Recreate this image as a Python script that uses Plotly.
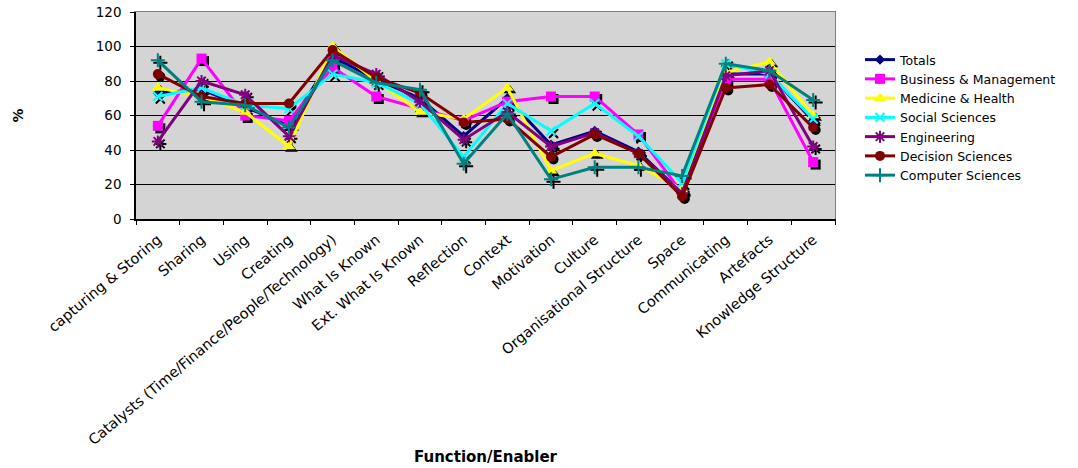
import plotly.graph_objects as go

# Function / enabler categories along the x axis
categories = [
    "capturing & Storing", "Sharing", "Using", "Creating",
    "Catalysts (Time/Finance/People/Technology)", "What Is Known",
    "Ext. What Is Known", "Reflection", "Context", "Motivation", "Culture",
    "Organisational Structure", "Space", "Communicating", "Artefacts",
    "Knowledge Structure",
]

# Percentages per discipline
totals      = [73, 75, 65, 54, 94, 81, 70, 48, 70, 43, 51, 39, 15, 84, 84, 57]
business    = [54, 93, 60, 57, 88, 71, 64, 57, 68, 71, 71, 49, 15, 81, 81, 33]
medicine    = [76, 71, 62, 42, 100, 80, 62, 58, 76, 28, 38, 31, 17, 85, 91, 60]
social      = [71, 76, 66, 64, 84, 79, 67, 36, 67, 51, 67, 48, 21, 90, 84, 58]
engineering = [45, 80, 72, 48, 95, 84, 68, 46, 62, 42, 50, 38, 15, 83, 86, 42]
decision    = [84, 71, 67, 67, 98, 82, 73, 56, 58, 36, 49, 38, 13, 76, 78, 53]
computer    = [92, 68, 66, 53, 92, 79, 75, 32, 61, 23, 30, 30, 25, 90, 86, 69]

y_ticks = [0, 20, 40, 60, 80, 100, 120]

series = [
    ("Totals", totals, "#000080", "diamond", 8),
    ("Business & Management", business, "#FF00FF", "square", 10),
    ("Medicine & Health", medicine, "#FFFF00", "triangle-up", 11),
    ("Social Sciences", social, "#00FFFF", "x-thin", 9),
    ("Engineering", engineering, "#800080", "asterisk", 10),
    ("Decision Sciences", decision, "#800000", "circle", 10),
    ("Computer Sciences", computer, "#008080", "cross-thin", 10),
]

W, H = 1078, 468
L, R, T, B = 136, 243, 12, 249
plot_w = W - L - R
plot_h = H - T - B
n = len(categories)
y_min, y_max = y_ticks[0], y_ticks[-1]

# drop-shadow offset (pixels) converted to axis units
shadow_px = 2.5
dx = shadow_px * n / plot_w
dy = shadow_px * (y_max - y_min) / plot_h

FONT = "DejaVu Sans"
fig = go.Figure()

# base axes: carries the category ticks and the gridlines
fig.add_trace(go.Scatter(
    x=categories, y=[None] * n, mode="lines", showlegend=False,
    hoverinfo="skip", xaxis="x", yaxis="y",
))

# black marker shadows, slightly offset down/right
for name, vals, color, sym, size in series:
    thin = sym in ("x-thin", "cross-thin", "asterisk")
    fig.add_trace(go.Scatter(
        x=categories, y=vals, mode="markers", showlegend=False, hoverinfo="skip",
        xaxis="x2", yaxis="y2",
        marker=dict(symbol=sym, size=size, color="black",
                    line=dict(color="black", width=2 if thin else 0)),
    ))

# coloured series
for name, vals, color, sym, size in series:
    thin = sym in ("x-thin", "cross-thin", "asterisk")
    fig.add_trace(go.Scatter(
        x=categories, y=vals, name=name, mode="lines+markers",
        xaxis="x3", yaxis="y3",
        line=dict(color=color, width=3),
        marker=dict(symbol=sym, size=size, color=color,
                    line=dict(color=color, width=2 if thin else 0)),
    ))

cat_axis = dict(type="category", categoryorder="array", categoryarray=categories)

fig.update_layout(
    width=W, height=H,
    margin=dict(l=L, r=R, t=T, b=B, autoexpand=False),
    paper_bgcolor="white",
    plot_bgcolor="#D4D4D4",
    font=dict(family=FONT, size=13, color="black"),
    xaxis=dict(
        **cat_axis, range=[-0.5, n - 0.5], automargin=False,
        showline=True, linecolor="black", linewidth=1.5,
        ticks="outside", tickson="boundaries", ticklen=4, tickcolor="black",
        tickangle=-40, tickfont=dict(family=FONT, size=14.5),
        ticklabelstandoff=5,
        showgrid=False, zeroline=False,
    ),
    yaxis=dict(
        range=[y_min, y_max], tickvals=y_ticks, automargin=False,
        showline=True, linecolor="black", linewidth=1.5,
        ticks="outside", ticklen=4, tickcolor="black",
        tickfont=dict(family=FONT, size=13.5),
        ticklabelstandoff=6,
        showgrid=True, gridcolor="black", gridwidth=1, zeroline=False,
    ),
    xaxis2=dict(**cat_axis, overlaying="x", range=[-0.5 - dx, n - 0.5 - dx],
                visible=False, automargin=False),
    yaxis2=dict(overlaying="y", range=[y_min + dy, y_max + dy], visible=False,
                automargin=False),
    xaxis3=dict(**cat_axis, overlaying="x", range=[-0.5, n - 0.5], side="top",
                showline=True, linecolor="#808080", linewidth=1, automargin=False,
                showticklabels=False, ticks="", showgrid=False, zeroline=False),
    yaxis3=dict(overlaying="y", range=[y_min, y_max], side="right",
                showline=True, linecolor="#808080", linewidth=1, automargin=False,
                showticklabels=False, ticks="", showgrid=False, zeroline=False),
    legend=dict(
        x=(860 - L) / plot_w, xanchor="left",
        y=(H - B - 45) / plot_h, yanchor="top",
        font=dict(family=FONT, size=12.5),
        bgcolor="rgba(0,0,0,0)", borderwidth=0,
        itemwidth=30, tracegroupgap=0,
    ),
    annotations=[
        dict(text="<b>Function/Enabler</b>", xref="paper", yref="paper",
             x=0.5, y=-(457 - (H - B)) / plot_h, xanchor="center", yanchor="middle",
             showarrow=False, font=dict(family=FONT, size=15)),
        dict(text="<b>%</b>", xref="paper", yref="paper",
             x=-(L - 17) / plot_w, y=0.5, xanchor="center", yanchor="middle",
             textangle=-90, showarrow=False, font=dict(family=FONT, size=14)),
    ],
)

fig.write_html("out.html")
